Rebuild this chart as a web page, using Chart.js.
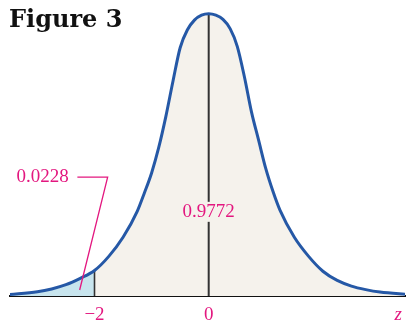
<!DOCTYPE html>
<html>
<head>
<meta charset="utf-8">
<script src="https://cdn.jsdelivr.net/npm/chart.js@4.4.1/dist/chart.umd.min.js"></script>
<style>
  html, body { margin: 0; padding: 0; background: #fff; }
  #wrap { width: 410px; height: 323px; position: relative; }
</style>
</head>
<body>
<div id="wrap"><canvas id="normalChart"></canvas></div>
<script>
// curve heights (peak = 0.399)
const zValues = [-3.5, -3, -2.75, -2.5, -2.25, -2, -1.75, -1.5, -1.25, -1.125, -1, -0.875, -0.75, -0.625,
                 -0.5, -0.375, -0.25, -0.125, 0,
                 0.125, 0.25, 0.375, 0.5, 0.625, 0.75, 0.875, 1, 1.125, 1.25, 1.5, 1.75, 2,
                 2.25, 2.5, 2.75, 3, 3.5];
const density = [0.002, 0.006, 0.010, 0.016, 0.025, 0.036, 0.056, 0.083, 0.120, 0.146, 0.174, 0.210, 0.254, 0.304,
                 0.351, 0.376, 0.390, 0.397, 0.399,
                 0.397, 0.391, 0.378, 0.353, 0.310, 0.260, 0.220, 0.180, 0.148, 0.121, 0.083, 0.056, 0.035,
                 0.022, 0.014, 0.009, 0.0055, 0.002];
const cutoff = -2;
const tailArea = '0.0228';
const bodyArea = '0.9772';
const tickValues = [-2, 0, 3.32];
const tickLabels = ['\u22122', '0', 'z'];

const MAGENTA = '#e3177f';
const BLUE = '#2558a6';
const SERIF = '"Liberation Serif", "DejaVu Serif", serif';

const curve = zValues.map((z, i) => ({ x: z, y: density[i] }));
const leftTail = curve.filter(p => p.x <= cutoff);
const body = curve.filter(p => p.x >= cutoff);
const cutTop = density[zValues.indexOf(cutoff)];
const peak = density[zValues.indexOf(0)];

const labelPlugin = {
    id: 'labels',
    afterDatasetsDraw(chart) {
        const { ctx, scales: { x, y } } = chart;
        ctx.save();
        // figure title
        ctx.fillStyle = '#111';
        ctx.font = 'bold 24px "DejaVu Serif", serif';
        ctx.textBaseline = 'alphabetic';
        ctx.textAlign = 'left';
        ctx.fillText('Figure 3', 9, 27);

        // body area label, background breaks the centre line
        ctx.font = '19px ' + SERIF;
        ctx.textAlign = 'center';
        ctx.textBaseline = 'middle';
        const bx = x.getPixelForValue(0), by = y.getPixelForValue(0.119);
        const w = ctx.measureText(bodyArea).width;
        ctx.fillStyle = '#f5f2ec';
        ctx.fillRect(bx - w / 2 - 2, by - 10, w + 4, 20);
        ctx.fillStyle = MAGENTA;
        ctx.fillText(bodyArea, bx, by);

        // tail label with leader
        ctx.fillText(tailArea, x.getPixelForValue(-2.91), y.getPixelForValue(0.168));
        ctx.strokeStyle = MAGENTA;
        ctx.lineWidth = 1.3;
        ctx.beginPath();
        ctx.moveTo(x.getPixelForValue(-2.30), y.getPixelForValue(0.168));
        ctx.lineTo(x.getPixelForValue(-1.77), y.getPixelForValue(0.168));
        ctx.lineTo(x.getPixelForValue(-2.26), y.getPixelForValue(0.0085));
        ctx.stroke();
        ctx.restore();
    }
};

// datasets listed top-most first (Chart.js paints index 0 last)
new Chart(document.getElementById('normalChart'), {
    type: 'line',
    data: {
        datasets: [
            {
                data: curve, borderColor: BLUE, borderWidth: 3,
                clip: { left: 0, right: 0, top: false, bottom: false }
            },
            { data: [{ x: 0, y: 0 }, { x: 0, y: peak }], borderColor: '#333', borderWidth: 2, tension: 0 },
            { data: [{ x: cutoff, y: 0 }, { x: cutoff, y: cutTop }], borderColor: '#333', borderWidth: 1.6, tension: 0 },
            { data: body, borderWidth: 0, backgroundColor: '#f5f2ec', fill: 'origin' },
            { data: leftTail, borderWidth: 0, backgroundColor: '#c8e5ee', fill: 'origin' }
        ]
    },
    options: {
        responsive: true,
        maintainAspectRatio: false,
        animation: false,
        elements: {
            point: { radius: 0 },
            line: { cubicInterpolationMode: 'monotone' }
        },
        layout: { padding: { left: 10, right: 2, top: 6, bottom: 0 } },
        plugins: { legend: { display: false }, tooltip: { enabled: false } },
        scales: {
            x: {
                type: 'linear',
                min: -3.48,
                max: 3.44,
                grid: { display: false, drawTicks: false },
                border: { color: '#111', width: 2 },
                afterBuildTicks: scale => { scale.ticks = tickValues.map(v => ({ value: v })); },
                afterFit: scale => { scale.height = 27; },
                ticks: {
                    autoSkip: false,
                    maxRotation: 0,
                    padding: 8,
                    color: MAGENTA,
                    font: c => ({ family: SERIF, size: 19, style: c.tick && c.tick.value > 3 ? 'italic' : 'normal' }),
                    callback: (v) => tickLabels[tickValues.indexOf(v)]
                }
            },
            y: { display: false, min: 0, max: 0.41 }
        }
    },
    plugins: [labelPlugin]
});
</script>
</body>
</html>
